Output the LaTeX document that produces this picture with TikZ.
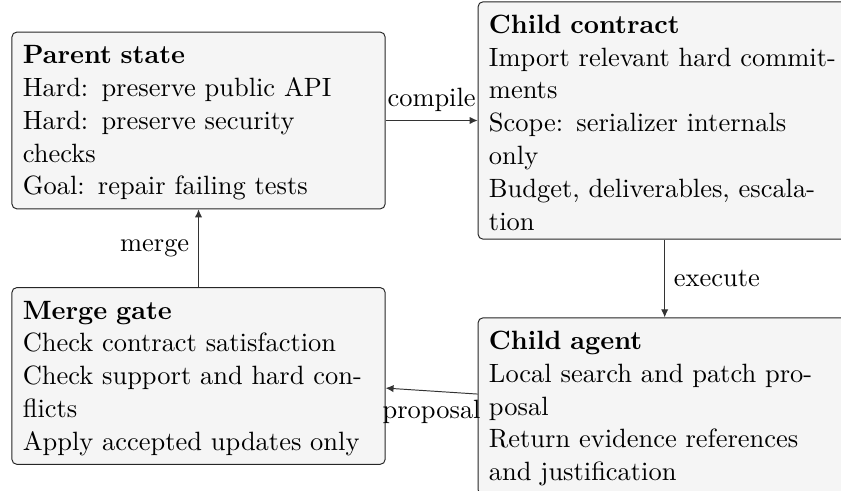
\documentclass[11pt,tikz,border=0pt]{standalone}
\usetikzlibrary{positioning,arrows.meta}
\hyphenation{commit-ments}
\begin{document}
\begin{tikzpicture}[
  box/.style={draw=black!85, fill=black!4, rounded corners=2pt, text width=145.5pt, align=left, inner xsep=4.5pt, inner ysep=3.5pt, line width=0.4pt},
  arr/.style={draw=black!80, -{Latex[length=3.3pt,width=3pt]}, line width=0.4pt},
  lbl/.style={inner sep=3.65pt, text=black}
]
\useasboundingbox (0,0) rectangle (348.2pt,-202.9pt);
\node[box, anchor=north west] (parent) at (4.75pt,-13.1pt) {\strut\textbf{Parent state}\\Hard: preserve public API\\Hard: preserve security checks\\Goal: repair failing tests};
\node[box, right=38.1pt of parent] (contract) {\strut\textbf{Child contract}\\Import relevant hard commitments\\Scope: serializer internals only\\Budget, deliverables, escalation};
\node[box, below=32.2pt of contract] (agent) {\strut\textbf{Child agent}\\Local search and patch proposal\\Return evidence references and justification};
\node[box, below=32.2pt of parent] (merge) {\strut\textbf{Merge gate}\\Check contract satisfaction\\Check support and hard conflicts\\Apply accepted updates only};
\draw[arr] (parent) -- node[lbl, above] {compile} (contract);
\draw[arr] (contract) -- node[lbl, right] {execute} (agent);
\draw[arr] (agent) -- node[lbl, below] {proposal} (merge);
\draw[arr] (merge) -- node[lbl, left] {merge} (parent);
\end{tikzpicture}
\end{document}
